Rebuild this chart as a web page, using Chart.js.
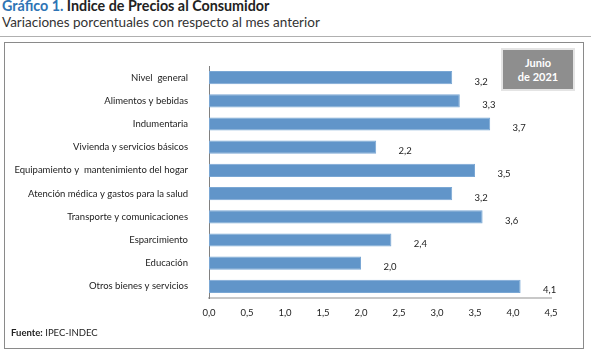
<!DOCTYPE html>
<html lang="es">
<head>
<meta charset="UTF-8">
<title>Indice de Precios al Consumidor</title>
<script src="https://cdn.jsdelivr.net/npm/chart.js"></script>
<style>
  body { margin: 0; width: 591px; height: 361px; position: relative; background: #fff; font-family: Lato, "Open Sans", sans-serif; overflow: hidden; }
  .title { position: absolute; left: 2px; top: -3px; font-size: 14.3px; font-weight: bold; color: #222; white-space: nowrap; }
  .title .num { color: #2e74b5; }
  .subtitle { position: absolute; left: 2px; top: 14px; font-size: 13.5px; color: #333; white-space: nowrap; }
  .rule { position: absolute; left: 0; top: 36px; width: 591px; height: 1px; background: #b0b0b0; }
  .frame { position: absolute; left: 4px; top: 42px; width: 578px; height: 305px; border: 1px solid #8a8a8a; }
  .badge { position: absolute; left: 501px; top: 48px; width: 70px; background: #8e8e8e; border: 2px solid #e4e4e4; color: #fff; font-weight: bold; font-size: 11px; text-align: center; line-height: 14px; padding-top: 6px; height: 33px; }
  .source { position: absolute; left: 11px; top: 327px; font-size: 9.5px; color: #222; }
  canvas { position: absolute; left: 0; top: 0; }
</style>
</head>
<body>
<div class="title"><span class="num">Gráfico 1.</span> Indice de Precios al Consumidor</div>
<div class="subtitle">Variaciones porcentuales con respecto al mes anterior</div>
<div class="rule"></div>
<div class="frame"></div>
<canvas id="chart" width="591" height="361"></canvas>
<div class="badge">Junio<br>de 2021</div>
<div class="source"><b>Fuente:</b> IPEC-INDEC</div>
<script>
const categories = [
  'Nivel  general',
  'Alimentos y bebidas',
  'Indumentaria',
  'Vivienda y servicios básicos',
  'Equipamiento y  mantenimiento del hogar',
  'Atención médica y gastos para la salud',
  'Transporte y comunicaciones',
  'Esparcimiento',
  'Educación',
  'Otros bienes y servicios'
];
const values = [3.2, 3.3, 3.7, 2.2, 3.5, 3.2, 3.6, 2.4, 2.0, 4.1];
const xTicks = [0, 0.5, 1, 1.5, 2, 2.5, 3, 3.5, 4, 4.5];

const fmt = v => v.toFixed(1).replace('.', ',');

// value labels to the right of each bar
const valueLabels = {
  id: 'valueLabels',
  afterDatasetsDraw(chart) {
    const ctx = chart.ctx;
    const meta = chart.getDatasetMeta(0);
    ctx.save();
    ctx.font = '9.5px Lato, "Open Sans", sans-serif';
    ctx.fillStyle = '#222';
    ctx.textAlign = 'center';
    ctx.textBaseline = 'middle';
    meta.data.forEach((bar, i) => {
      ctx.fillText(fmt(values[i]), bar.x + 29, bar.y + 4);
    });
    ctx.restore();
  }
};

new Chart(document.getElementById('chart'), {
  type: 'bar',
  data: {
    labels: categories,
    datasets: [{
      data: values,
      backgroundColor: '#6195c9',
      borderColor: '#7aa7d4',
      borderWidth: 1,
      borderSkipped: false,
      barPercentage: 0.57,
      categoryPercentage: 1
    }]
  },
  options: {
    indexAxis: 'y',
    responsive: false,
    animation: false,
    events: [],
    layout: { padding: { top: 66, right: 40, bottom: 33, left: 0 } },
    plugins: { legend: { display: false }, tooltip: { enabled: false } },
    scales: {
      x: {
        min: 0,
        max: 4.5,
        afterBuildTicks: s => { s.ticks = xTicks.map(v => ({ value: v })); },
        afterFit: s => { s.height = 30; },
        grid: { display: false, drawTicks: false },
        border: { display: true, color: '#c8c8c8', width: 2 },
        ticks: {
          padding: 9,
          color: '#222',
          font: { family: 'Lato, "Open Sans", sans-serif', size: 9.5 },
          callback: v => fmt(v)
        }
      },
      y: {
        afterFit: s => { s.width = 209; },
        grid: { display: false, drawTicks: false },
        border: { display: true, color: '#808080', width: 1 },
        ticks: {
          padding: 21,
          color: '#222',
          font: { family: 'Lato, "Open Sans", sans-serif', size: 9.5 }
        }
      }
    }
  },
  plugins: [valueLabels]
});
</script>
</body>
</html>
